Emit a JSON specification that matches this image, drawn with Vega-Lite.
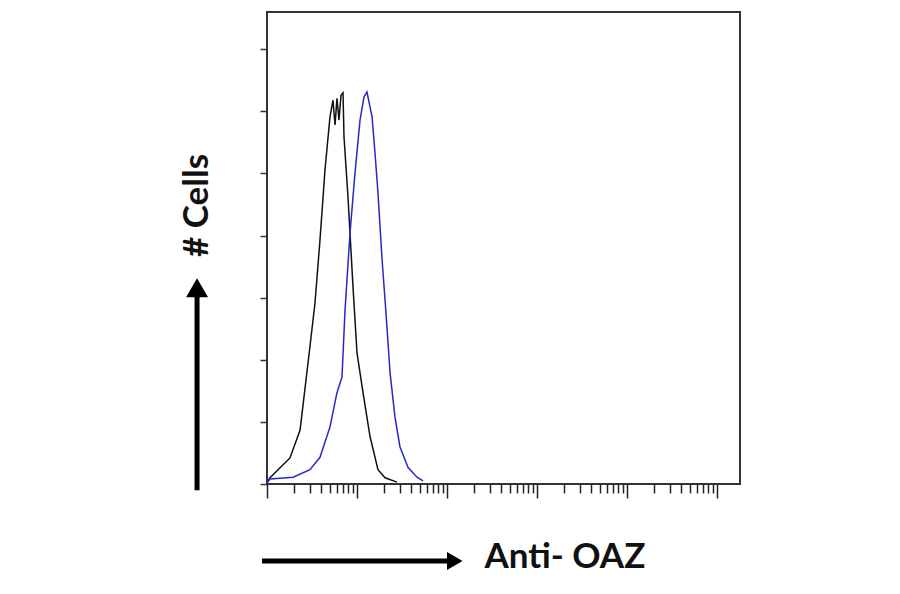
{
  "$schema": "https://vega.github.io/schema/vega-lite/v6.json",
  "autosize": "none",
  "width": 473,
  "height": 472,
  "padding": {"left": 267, "top": 12, "right": 160, "bottom": 110},
  "background": "white",
  "datasets": {
    "hist": [
      {"sample": "control", "intensity": 1.0, "count": 2},
      {"sample": "control", "intensity": 1.08, "count": 10},
      {"sample": "control", "intensity": 1.8, "count": 42},
      {"sample": "control", "intensity": 2.33, "count": 87},
      {"sample": "control", "intensity": 3.0, "count": 221},
      {"sample": "control", "intensity": 3.41, "count": 291},
      {"sample": "control", "intensity": 3.88, "count": 393},
      {"sample": "control", "intensity": 4.41, "count": 506},
      {"sample": "control", "intensity": 5.01, "count": 591},
      {"sample": "control", "intensity": 5.41, "count": 618},
      {"sample": "control", "intensity": 5.7, "count": 578},
      {"sample": "control", "intensity": 5.99, "count": 621},
      {"sample": "control", "intensity": 6.31, "count": 586},
      {"sample": "control", "intensity": 6.64, "count": 626},
      {"sample": "control", "intensity": 6.99, "count": 630},
      {"sample": "control", "intensity": 7.17, "count": 559},
      {"sample": "control", "intensity": 7.94, "count": 462},
      {"sample": "control", "intensity": 9.03, "count": 317},
      {"sample": "control", "intensity": 10.0, "count": 211},
      {"sample": "control", "intensity": 11.66, "count": 147},
      {"sample": "control", "intensity": 13.97, "count": 76},
      {"sample": "control", "intensity": 17.1, "count": 23},
      {"sample": "control", "intensity": 20.5, "count": 10},
      {"sample": "control", "intensity": 27.8, "count": 3},
      {"sample": "Anti-OAZ", "intensity": 1.0, "count": 2},
      {"sample": "Anti-OAZ", "intensity": 1.08, "count": 8},
      {"sample": "Anti-OAZ", "intensity": 1.95, "count": 11},
      {"sample": "Anti-OAZ", "intensity": 3.0, "count": 23},
      {"sample": "Anti-OAZ", "intensity": 3.88, "count": 43},
      {"sample": "Anti-OAZ", "intensity": 5.01, "count": 92},
      {"sample": "Anti-OAZ", "intensity": 5.99, "count": 147},
      {"sample": "Anti-OAZ", "intensity": 6.81, "count": 172},
      {"sample": "Anti-OAZ", "intensity": 7.36, "count": 280},
      {"sample": "Anti-OAZ", "intensity": 8.36, "count": 404},
      {"sample": "Anti-OAZ", "intensity": 9.5, "count": 501},
      {"sample": "Anti-OAZ", "intensity": 10.8, "count": 586},
      {"sample": "Anti-OAZ", "intensity": 11.95, "count": 623},
      {"sample": "Anti-OAZ", "intensity": 12.9, "count": 631},
      {"sample": "Anti-OAZ", "intensity": 14.7, "count": 591},
      {"sample": "Anti-OAZ", "intensity": 15.85, "count": 533},
      {"sample": "Anti-OAZ", "intensity": 17.1, "count": 469},
      {"sample": "Anti-OAZ", "intensity": 19.0, "count": 361},
      {"sample": "Anti-OAZ", "intensity": 21.0, "count": 275},
      {"sample": "Anti-OAZ", "intensity": 23.3, "count": 179},
      {"sample": "Anti-OAZ", "intensity": 26.4, "count": 108},
      {"sample": "Anti-OAZ", "intensity": 30.0, "count": 60},
      {"sample": "Anti-OAZ", "intensity": 36.8, "count": 27},
      {"sample": "Anti-OAZ", "intensity": 46.4, "count": 11},
      {"sample": "Anti-OAZ", "intensity": 54.2, "count": 5}
    ],
    "arrows": [
      {"axis": "y", "x": 0.167, "x2": 0.167, "y": -10, "y2": 309, "hx": 0.167, "hy": 316},
      {"axis": "x", "x": 0.88, "x2": 108, "y": -124, "y2": -124, "hx": 122, "hy": -124}
    ]
  },
  "layer": [
    {
      "data": {"name": "hist"},
      "mark": {"type": "line", "strokeWidth": 1.5, "clip": false},
      "encoding": {
        "x": {
          "field": "intensity",
          "type": "quantitative",
          "scale": {"type": "log", "domain": [1, 180000], "nice": false},
          "axis": {
            "values": [1, 2, 3, 4, 5, 6, 7, 8, 9, 10, 20, 30, 40, 50, 60, 70, 80, 90, 100, 200, 300, 400, 500, 600, 700, 800, 900, 1000, 2000, 3000, 4000, 5000, 6000, 7000, 8000, 9000, 10000, 20000, 30000, 40000, 50000, 60000, 70000, 80000, 90000, 100000],
            "labels": false,
            "grid": false,
            "domain": false,
            "tickColor": "#222",
            "tickWidth": 1.5,
            "tickSize": {"condition": {"test": "indexof([1, 10, 100, 1000, 10000, 100000], datum.value) >= 0", "value": 14}, "value": 9},
            "title": "Anti- OAZ",
            "titleFont": "Lato",
            "titleFontSize": 35,
            "titleFontWeight": "bold",
            "titleColor": "#111",
            "titleAlign": "left",
            "titleBaseline": "alphabetic",
            "titleX": 217,
            "titleY": 83
          }
        },
        "y": {
          "field": "count",
          "type": "quantitative",
          "scale": {"domain": [0, 760], "nice": false},
          "axis": {
            "values": [0, 100, 200, 300, 400, 500, 600, 700],
            "labels": false,
            "grid": false,
            "domain": false,
            "tickColor": "#333",
            "tickWidth": 1.5,
            "tickSize": 7,
            "title": "# Cells",
            "titleFont": "Lato",
            "titleFontSize": 35,
            "titleFontWeight": "bold",
            "titleColor": "#111",
            "titleAngle": 270,
            "titleAlign": "center",
            "titleBaseline": "middle",
            "titleX": -71,
            "titleY": 193
          }
        },
        "color": {
          "field": "sample",
          "type": "nominal",
          "scale": {"domain": ["control", "Anti-OAZ"], "range": ["#111111", "#2828c8"]},
          "legend": null
        }
      }
    },
    {
      "data": {"name": "arrows"},
      "mark": {"type": "rule", "strokeWidth": 5, "color": "#000", "strokeCap": "butt"},
      "encoding": {
        "x": {"field": "x", "type": "quantitative"},
        "x2": {"field": "x2"},
        "y": {"field": "y", "type": "quantitative"},
        "y2": {"field": "y2"}
      }
    },
    {
      "data": {"name": "arrows"},
      "transform": [{"filter": "datum.axis === 'y'"}],
      "mark": {"type": "point", "shape": "triangle-up", "size": 484, "filled": true, "opacity": 1, "color": "#000"},
      "encoding": {
        "x": {"field": "hx", "type": "quantitative"},
        "y": {"field": "hy", "type": "quantitative"}
      }
    },
    {
      "data": {"name": "arrows"},
      "transform": [{"filter": "datum.axis === 'x'"}],
      "mark": {"type": "point", "shape": "triangle-right", "size": 324, "filled": true, "opacity": 1, "color": "#000"},
      "encoding": {
        "x": {"field": "hx", "type": "quantitative"},
        "y": {"field": "hy", "type": "quantitative"}
      }
    }
  ],
  "config": {
    "view": {"stroke": "#333", "strokeWidth": 2}
  }
}
